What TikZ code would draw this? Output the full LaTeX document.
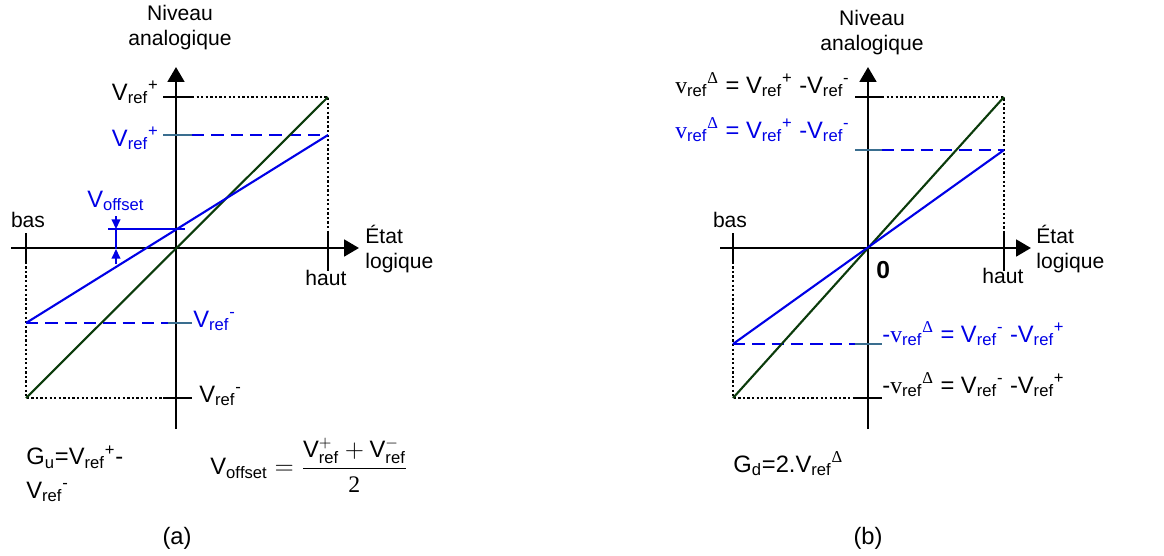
\documentclass[tikz,border=0pt]{standalone}
\usepackage{fontspec}
\setmainfont{Liberation Sans}
\newfontfamily\tnr{Liberation Serif}
\usetikzlibrary{arrows.meta}

\definecolor{refblue}{HTML}{0000E6}
\definecolor{refgreen}{HTML}{0B3B0B}
\definecolor{refteal}{HTML}{3A6E8F}

\newcommand{\Vref}[1]{V\textsubscript{ref}\textsuperscript{#1}}
\newcommand{\vdelta}{{\tnr v}\textsubscript{ref}\textsuperscript{\tnr Δ}}

\begin{document}
\begin{tikzpicture}[
    x=0.02cm, y=-0.02cm,
    font=\fontsize{12}{14.2}\selectfont,
    % Styles
    axisline/.style={line width=1.6pt, -{Triangle[length=8.5pt,width=9.5pt]}},
    tickmark/.style={line width=1.6pt},
    guide/.style={line width=1.3pt, dash pattern=on 1.3pt off 1.3pt},
    ideal/.style={refgreen, line width=1.2pt},
    real/.style={refblue, line width=1.2pt},
    realguide/.style={refblue, line width=1.2pt, dash pattern=on 7pt off 4pt},
    realtick/.style={refteal, line width=1.2pt},
    offarrow/.style={refblue, line width=0.8pt, -{Triangle[length=5.5pt,width=5pt]}},
    axislabel/.style={align=center, inner sep=0pt},
    reflabel/.style={font=\fontsize{13.5}{18.8}\selectfont, inner sep=0pt},
]
\useasboundingbox (0,0) rectangle (1164,555);

%--- Panel (a): axes ---%
\coordinate (aO) at (176,248);
\coordinate (aW) at (11,248);
\coordinate (aE) at (359,248);
\coordinate (aS) at (176,429);
\coordinate (aN) at (176,67);
\draw[axisline] (aW) -- (aE);
\draw[axisline] (aS) -- (aN);

% haut / bas ticks
\coordinate (aHaut) at (328,248);
\coordinate (aHautT) at (328,233);
\coordinate (aHautB) at (328,271);
\coordinate (aBas) at (26,248);
\coordinate (aBasT) at (26,233);
\coordinate (aBasB) at (26,263);
\draw[tickmark] (aHautT) -- (aHautB);
\draw[tickmark] (aBasT) -- (aBasB);

% full scale (dotted)
\coordinate (aTopL) at (163,97);
\coordinate (aTopR) at (192,97);
\coordinate (aHi) at (328,97);
\coordinate (aBotL) at (163,398);
\coordinate (aBotR) at (192,398);
\coordinate (aLo) at (26,398);
\draw[tickmark] (aTopL) -- (aTopR);
\draw[tickmark] (aBotL) -- (aBotR);
\draw[guide] (aTopR) -- (aHi) -- (aHaut);
\draw[guide] (aBas) -- (aLo) -- (aBotL);

% real scale (dashed blue)
\coordinate (aRTopL) at (163,135);
\coordinate (aRTopR) at (192,135);
\coordinate (aRHi) at (328,135);
\coordinate (aRBotL) at (168,323);
\coordinate (aRBotR) at (192,323);
\coordinate (aRLo) at (26,323);
\draw[realguide] (aRTopR) -- (aRHi);
\draw[realtick] (aRTopL) -- (aRTopR);
\draw[realguide] (aRLo) -- (aRBotL);
\draw[realtick] (aRBotL) -- (aRBotR);

% characteristics
\draw[ideal] (aLo) -- (aHi);
\draw[real] (aRLo) -- (aRHi);

% offset
\coordinate (aOffL) at (108,229);
\coordinate (aOffR) at (185,229);
\coordinate (aOffT) at (116,216);
\coordinate (aOffA) at (116,229);
\coordinate (aOffB) at (116,249);
\coordinate (aOffD) at (116,264);
\draw[real, line width=0.8pt] (aOffL) -- (aOffR);
\draw[refblue, line width=0.8pt] (aOffA) -- (aOffB);
\draw[offarrow] (aOffT) -- (aOffA);
\draw[offarrow] (aOffD) -- (aOffB);

%--- Panel (a): labels ---%
\node[axislabel] (aNiveau) at (180,28) {Niveau\\analogique};
\node[axislabel, anchor=base] (aBasLbl) at (28,227) {bas};
\node[axislabel, anchor=base] (aHautLbl) at (326,285) {haut};
\node[axislabel, anchor=west, align=left] (aEtat) at (365,249) {État\\logique};
\node[reflabel, anchor=base east] (aVp) at (159,100) {\Vref{+}};
\node[reflabel, anchor=base east, text=refblue] (aRVp) at (159,146) {\Vref{+}};
\node[reflabel, anchor=base west, text=refblue] (aVoff) at (87,207) {V\textsubscript{offset}};
\node[reflabel, anchor=base west, text=refblue] (aRVm) at (193,327) {\Vref{-}};
\node[reflabel, anchor=base west] (aVm) at (199,402) {\Vref{-}};
\node[reflabel, anchor=base west, align=left] (aGain) at (26,498) {G\textsubscript{u}=\Vref{+}-\\\Vref{-}};
\node[reflabel, anchor=west] (aFormula) at (210,465)
    {$\displaystyle\mathrm{V}_{\mathrm{offset}}=\frac{\mathrm{V}^{+}_{\mathrm{ref}}+\mathrm{V}^{-}_{\mathrm{ref}}}{\mbox{\tnr 2}}$};
\node[reflabel] (aCap) at (177,538) {(a)};

%--- Panel (b): axes ---%
\coordinate (bO) at (868,248);
\coordinate (bW) at (720,248);
\coordinate (bE) at (1031,248);
\coordinate (bS) at (868,429);
\coordinate (bN) at (868,67);
\draw[axisline] (bW) -- (bE);
\draw[axisline] (bS) -- (bN);

% haut / bas ticks
\coordinate (bHaut) at (1004,248);
\coordinate (bHautT) at (1004,233);
\coordinate (bHautB) at (1004,271);
\coordinate (bBas) at (733,248);
\coordinate (bBasT) at (733,233);
\coordinate (bBasB) at (733,263);
\draw[tickmark] (bHautT) -- (bHautB);
\draw[tickmark] (bBasT) -- (bBasB);

% full scale (dotted)
\coordinate (bTopL) at (855,97);
\coordinate (bTopR) at (882,97);
\coordinate (bHi) at (1004,97);
\coordinate (bBotL) at (855,398);
\coordinate (bBotR) at (882,398);
\coordinate (bLo) at (733,398);
\draw[tickmark] (bTopL) -- (bTopR);
\draw[tickmark] (bBotL) -- (bBotR);
\draw[guide] (bTopR) -- (bHi) -- (bHaut);
\draw[guide] (bBas) -- (bLo) -- (bBotL);

% real scale (dashed blue)
\coordinate (bRTopL) at (855,150);
\coordinate (bRTopR) at (882,150);
\coordinate (bRHi) at (1004,150);
\coordinate (bRBotL) at (855,344);
\coordinate (bRBotR) at (882,344);
\coordinate (bRLo) at (733,344);
\draw[realguide] (bRTopR) -- (bRHi);
\draw[realtick] (bRTopL) -- (bRTopR);
\draw[realguide] (bRLo) -- (bRBotL);
\draw[realtick] (bRBotL) -- (bRBotR);

% characteristics
\draw[ideal] (bLo) -- (bHi);
\draw[real] (bRLo) -- (bRHi);

%--- Panel (b): labels ---%
\node[axislabel] (bNiveau) at (872,33) {Niveau\\analogique};
\node[axislabel, anchor=base] (bBasLbl) at (730,227) {bas};
\node[axislabel, anchor=base] (bHautLbl) at (1003,283) {haut};
\node[axislabel, anchor=west, align=left] (bEtat) at (1036,249) {État\\logique};
\node[anchor=base west, inner sep=0pt, font=\fontsize{14}{16}\selectfont\bfseries] (bZero) at (876,278) {0};
\node[reflabel, anchor=base east] (bVp) at (850,93) {\vdelta{} = \Vref{+} -\Vref{-}};
\node[reflabel, anchor=base east, text=refblue] (bRVp) at (850,138) {\vdelta{} = \Vref{+} -\Vref{-}};
\node[reflabel, anchor=base west, text=refblue] (bRVm) at (882,342) {-\vdelta{} = \Vref{-} -\Vref{+}};
\node[reflabel, anchor=base west] (bVm) at (882,393) {-\vdelta{} = \Vref{-} -\Vref{+}};
\node[reflabel, anchor=base west] (bGain) at (733,472) {G\textsubscript{d}=2.V\textsubscript{ref}\textsuperscript{\tnr Δ}};
\node[reflabel] (bCap) at (868,538) {(b)};

\end{tikzpicture}
\end{document}
